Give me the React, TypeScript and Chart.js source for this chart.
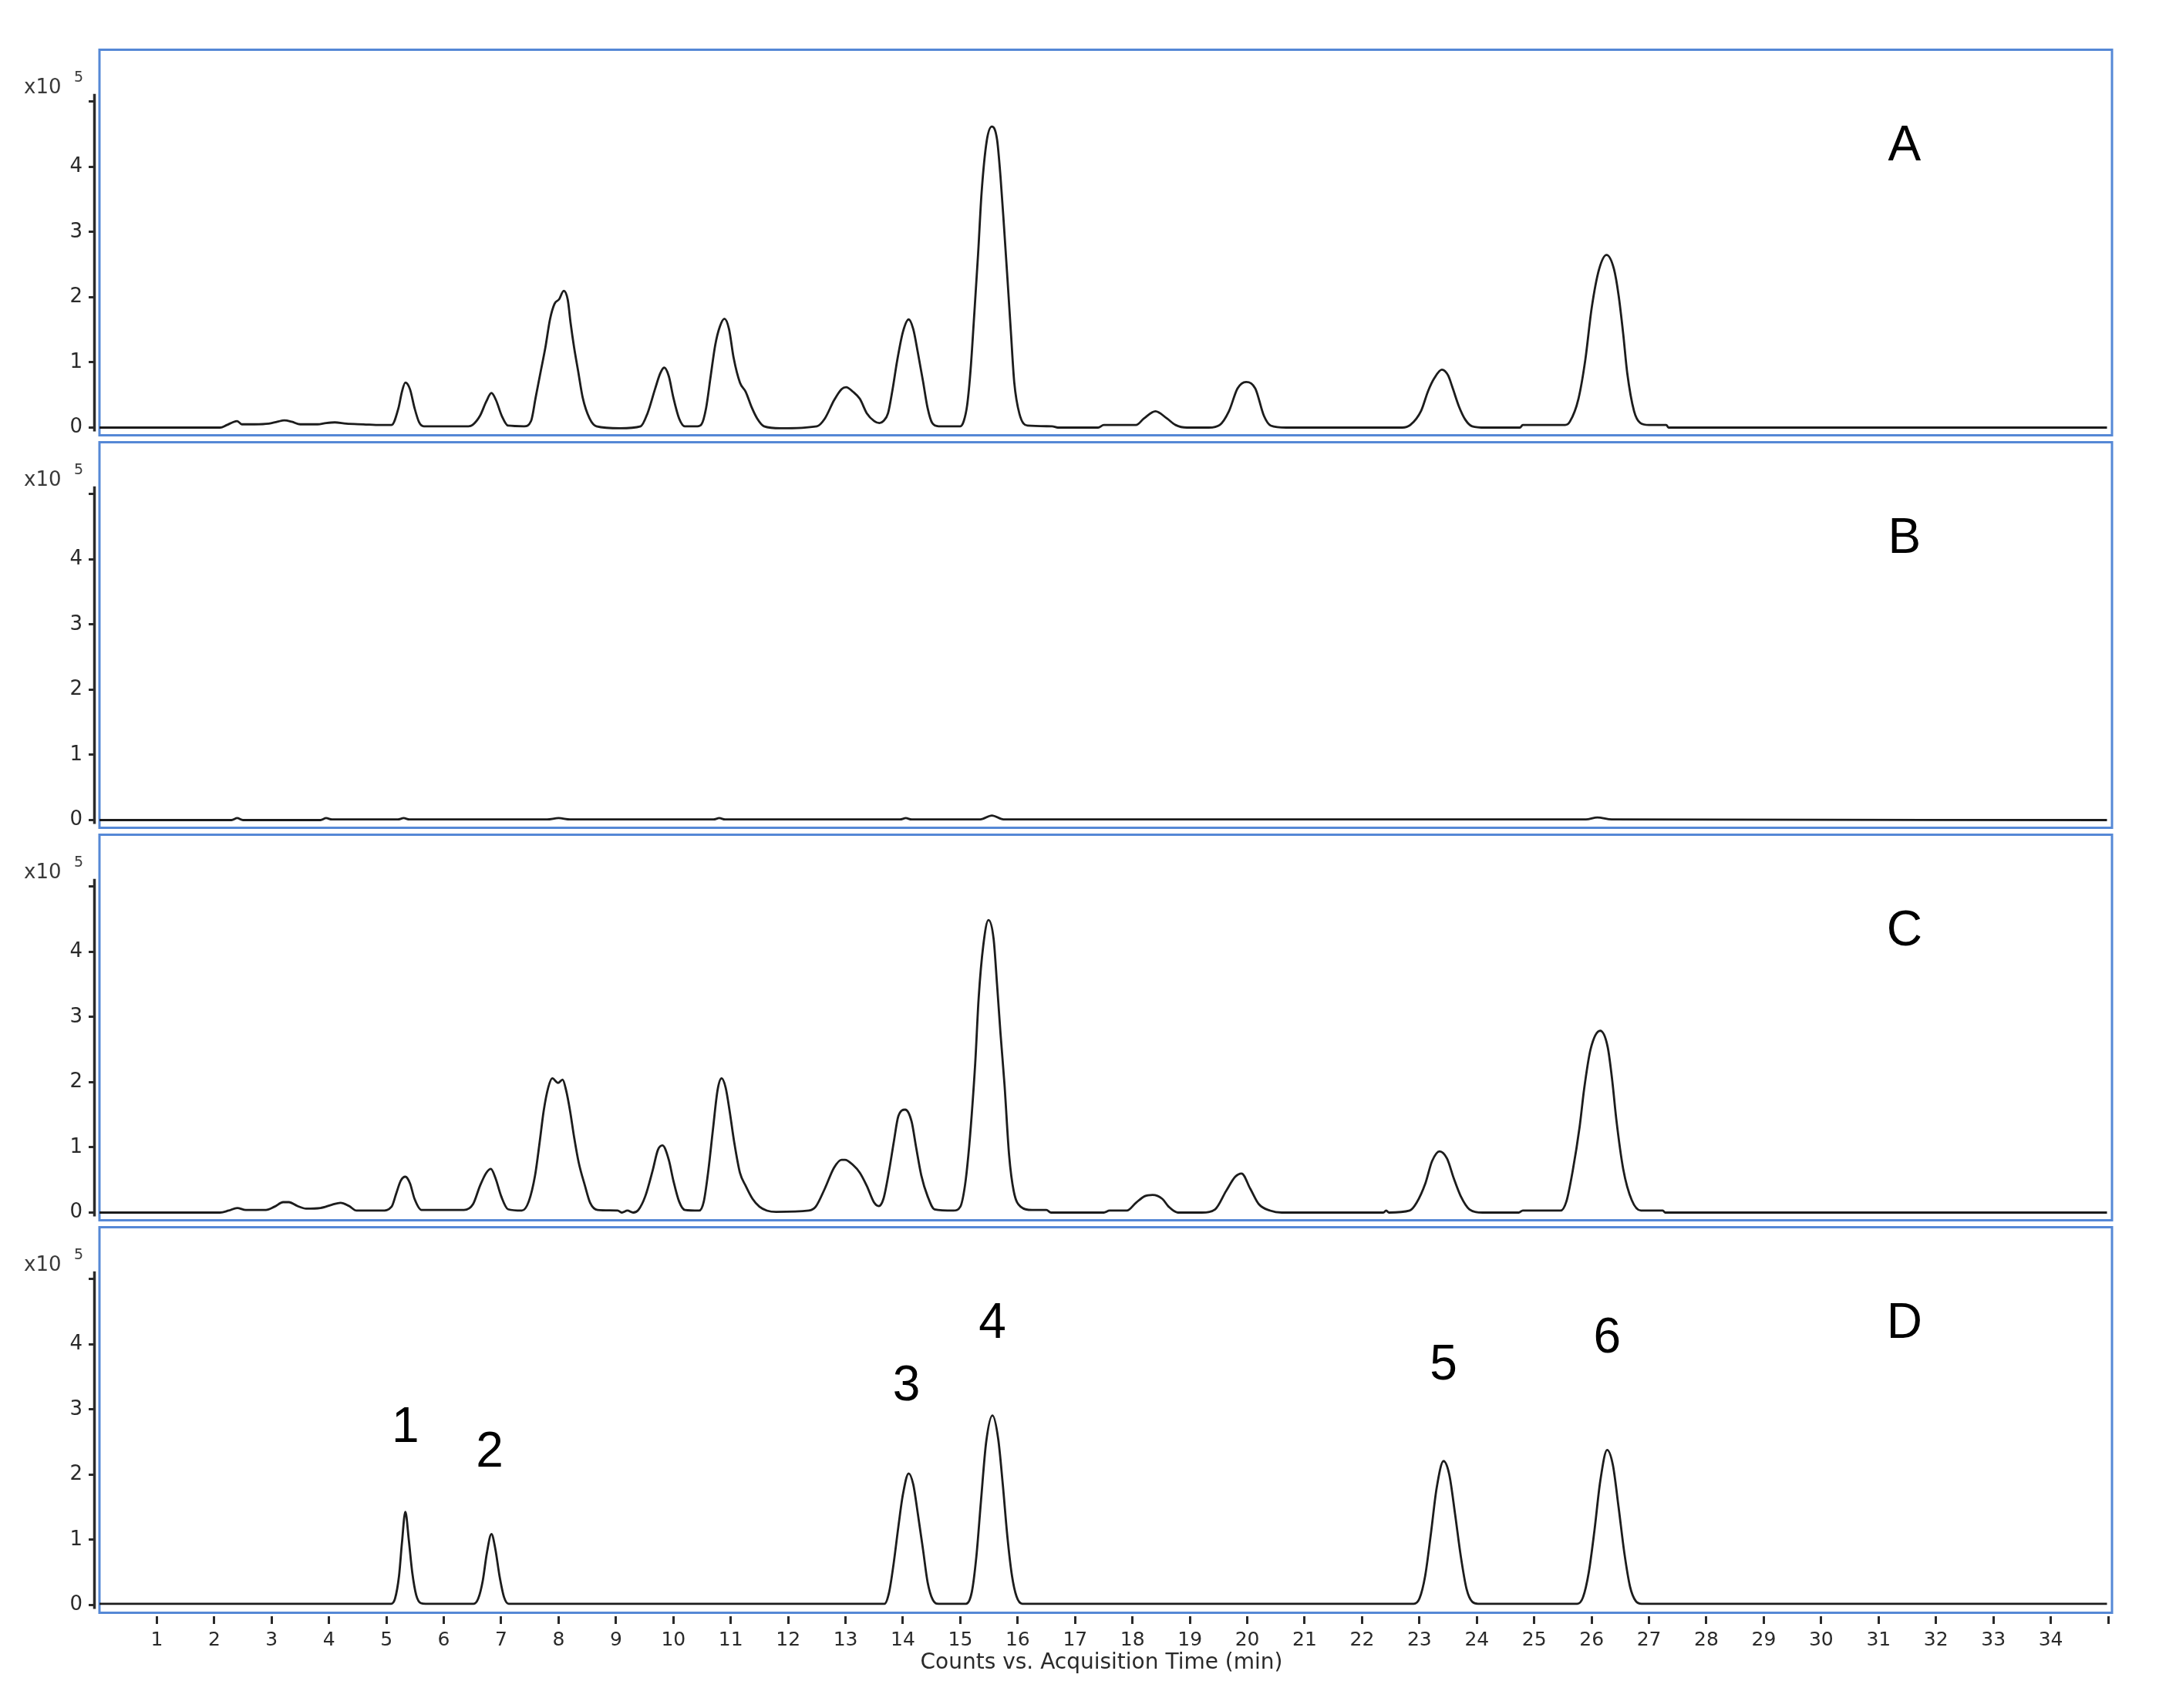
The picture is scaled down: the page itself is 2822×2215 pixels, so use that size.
import React, { useEffect, useRef } from 'react';
import { Chart, registerables } from 'chart.js';

Chart.register(...registerables);

// ---- Data (counts in units of 1e5) ----
const timeA = [0, 2.1, 2.22, 2.32, 2.4, 2.48, 2.7, 2.95, 3.1, 3.22, 3.35, 3.5, 3.8, 3.95, 4.1, 4.3, 4.6, 4.9, 5.09, 5.21, 5.27, 5.33, 5.41, 5.49, 5.57, 5.65, 6.43, 6.5, 6.63, 6.74, 6.83, 6.91, 7.01, 7.12, 7.4, 7.52, 7.6, 7.69, 7.77, 7.85, 7.93, 8.01, 8.09, 8.16, 8.21, 8.27, 8.34, 8.42, 8.54, 8.66, 9.07, 9.43, 9.55, 9.68, 9.77, 9.84, 9.92, 10.0, 10.1, 10.2, 10.42, 10.49, 10.57, 10.65, 10.73, 10.81, 10.89, 10.97, 11.05, 11.16, 11.26, 11.37, 11.46, 11.58, 11.87, 12.5, 12.64, 12.8, 12.93, 13.01, 13.13, 13.25, 13.37, 13.5, 13.59, 13.66, 13.74, 13.82, 13.9, 14.0, 14.1, 14.18, 14.26, 14.35, 14.43, 14.51, 14.62, 15.0, 15.06, 15.12, 15.18, 15.24, 15.31, 15.37, 15.46, 15.55, 15.64, 15.7, 15.76, 15.82, 15.88, 15.94, 16.03, 16.17, 16.6, 16.7, 17.4, 17.5, 18.06, 18.2, 18.4, 18.6, 18.75, 18.95, 19.33, 19.52, 19.68, 19.83, 19.98, 20.14, 20.29, 20.41, 20.68, 22.7, 22.84, 23.03, 23.15, 23.26, 23.39, 23.5, 23.57, 23.69, 23.8, 23.92, 24.15, 24.75, 24.8, 25.54, 25.62, 25.77, 25.89, 26.0, 26.13, 26.26, 26.39, 26.47, 26.55, 26.62, 26.74, 26.85, 27.0, 27.3, 27.34, 34.98];
const countsA = [0, 0, 0.04, 0.08, 0.1, 0.05, 0.05, 0.06, 0.09, 0.11, 0.09, 0.05, 0.05, 0.07, 0.08, 0.06, 0.05, 0.04, 0.04, 0.3, 0.55, 0.69, 0.59, 0.3, 0.08, 0.02, 0.02, 0.04, 0.18, 0.4, 0.53, 0.42, 0.18, 0.03, 0.02, 0.1, 0.46, 0.87, 1.23, 1.66, 1.9, 1.97, 2.1, 1.96, 1.6, 1.23, 0.87, 0.46, 0.14, 0.02, -0.01, 0.02, 0.22, 0.59, 0.83, 0.92, 0.79, 0.46, 0.14, 0.02, 0.02, 0.05, 0.3, 0.79, 1.27, 1.55, 1.67, 1.51, 1.07, 0.69, 0.55, 0.3, 0.14, 0.02, -0.01, 0.02, 0.14, 0.42, 0.59, 0.62, 0.55, 0.44, 0.22, 0.1, 0.07, 0.1, 0.22, 0.59, 1.03, 1.47, 1.66, 1.51, 1.15, 0.71, 0.3, 0.07, 0.02, 0.02, 0.1, 0.35, 0.9, 1.7, 2.67, 3.6, 4.4, 4.62, 4.42, 3.85, 3.1, 2.3, 1.48, 0.69, 0.21, 0.03, 0.02, 0, 0, 0.04, 0.04, 0.14, 0.25, 0.14, 0.04, 0, 0, 0.04, 0.25, 0.6, 0.7, 0.6, 0.18, 0.03, 0, 0, 0.04, 0.26, 0.56, 0.76, 0.89, 0.8, 0.63, 0.32, 0.12, 0.02, 0, 0, 0.04, 0.04, 0.09, 0.44, 1.04, 1.83, 2.43, 2.65, 2.43, 2.03, 1.44, 0.84, 0.25, 0.07, 0.04, 0.04, 0, 0];

const timeB = [0, 2.3, 2.4, 2.5, 3.85, 3.95, 4.05, 5.2, 5.3, 5.4, 7.8, 8.0, 8.2, 10.7, 10.8, 10.9, 13.95, 14.05, 14.15, 15.35, 15.55, 15.75, 25.9, 26.1, 26.35, 34.98];
const countsB = [0, 0, 0.03, 0, 0, 0.03, 0.01, 0.01, 0.03, 0.01, 0.01, 0.03, 0.01, 0.01, 0.03, 0.01, 0.01, 0.03, 0.01, 0.01, 0.07, 0.01, 0.01, 0.04, 0.01, 0];

const timeC = [0, 2.1, 2.25, 2.4, 2.55, 2.9, 3.05, 3.2, 3.3, 3.45, 3.6, 3.85, 4.05, 4.2, 4.35, 4.48, 4.92, 5.09, 5.17, 5.25, 5.33, 5.41, 5.49, 5.61, 6.35, 6.51, 6.63, 6.74, 6.82, 6.9, 7.0, 7.12, 7.36, 7.48, 7.59, 7.67, 7.74, 7.82, 7.89, 7.99, 8.07, 8.13, 8.2, 8.27, 8.35, 8.46, 8.55, 8.68, 9.03, 9.1, 9.2, 9.3, 9.39, 9.51, 9.64, 9.73, 9.81, 9.92, 10.0, 10.1, 10.2, 10.45, 10.53, 10.61, 10.69, 10.77, 10.84, 10.91, 10.98, 11.06, 11.16, 11.26, 11.38, 11.5, 11.63, 11.79, 12.36, 12.48, 12.64, 12.8, 12.93, 12.99, 13.13, 13.25, 13.37, 13.5, 13.58, 13.66, 13.76, 13.84, 13.92, 14.04, 14.15, 14.23, 14.32, 14.43, 14.55, 14.88, 15.0, 15.08, 15.14, 15.2, 15.26, 15.32, 15.4, 15.49, 15.58, 15.64, 15.7, 15.77, 15.85, 15.93, 16.05, 16.25, 16.5, 16.58, 17.5, 17.6, 17.9, 18.06, 18.21, 18.35, 18.52, 18.63, 18.79, 19.21, 19.44, 19.63, 19.79, 19.9, 20.05, 20.2, 20.4, 20.6, 22.37, 22.42, 22.47, 22.83, 22.95, 23.1, 23.22, 23.35, 23.48, 23.6, 23.72, 23.87, 24.1, 24.73, 24.8, 25.46, 25.56, 25.67, 25.79, 25.87, 25.98, 26.15, 26.28, 26.36, 26.43, 26.55, 26.7, 26.86, 27.24, 27.28, 34.98];
const countsC = [0, 0, 0.03, 0.07, 0.04, 0.04, 0.09, 0.16, 0.16, 0.1, 0.06, 0.07, 0.12, 0.15, 0.1, 0.03, 0.03, 0.09, 0.29, 0.49, 0.55, 0.45, 0.21, 0.04, 0.04, 0.13, 0.41, 0.61, 0.67, 0.53, 0.25, 0.05, 0.03, 0.17, 0.57, 1.08, 1.56, 1.92, 2.06, 1.99, 2.04, 1.88, 1.56, 1.16, 0.77, 0.41, 0.15, 0.04, 0.03, 0, 0.03, 0, 0.04, 0.25, 0.65, 0.96, 1.03, 0.81, 0.49, 0.17, 0.04, 0.03, 0.17, 0.65, 1.28, 1.88, 2.06, 1.92, 1.56, 1.08, 0.61, 0.41, 0.21, 0.09, 0.03, 0.01, 0.03, 0.09, 0.37, 0.69, 0.81, 0.81, 0.73, 0.61, 0.41, 0.15, 0.1, 0.21, 0.65, 1.08, 1.48, 1.58, 1.4, 1.0, 0.57, 0.25, 0.05, 0.03, 0.09, 0.41, 0.88, 1.52, 2.3, 3.3, 4.1, 4.49, 4.2, 3.5, 2.75, 1.96, 0.88, 0.33, 0.09, 0.04, 0.04, 0, 0, 0.03, 0.03, 0.15, 0.25, 0.27, 0.21, 0.09, 0, 0, 0.05, 0.33, 0.55, 0.6, 0.37, 0.13, 0.03, 0, 0, 0.03, 0, 0.03, 0.15, 0.44, 0.79, 0.94, 0.83, 0.52, 0.25, 0.05, 0, 0, 0.03, 0.03, 0.17, 0.64, 1.31, 1.9, 2.5, 2.79, 2.54, 2.02, 1.43, 0.67, 0.19, 0.03, 0.03, 0, 0];

const timeD = [0, 5.08, 5.15, 5.22, 5.27, 5.33, 5.39, 5.45, 5.52, 5.6, 5.68, 6.52, 6.6, 6.68, 6.75, 6.83, 6.9, 6.97, 7.05, 7.13, 13.68, 13.76, 13.84, 13.92, 14.0, 14.1, 14.18, 14.26, 14.35, 14.43, 14.52, 14.62, 15.1, 15.2, 15.28, 15.36, 15.45, 15.56, 15.66, 15.74, 15.82, 15.9, 15.98, 16.08, 22.9, 23.0, 23.1, 23.2, 23.3, 23.42, 23.52, 23.62, 23.72, 23.82, 23.92, 24.02, 25.75, 25.85, 25.95, 26.05, 26.15, 26.27, 26.37, 26.47, 26.57, 26.67, 26.77, 26.87, 34.98];
const countsD = [0.02, 0.02, 0.1, 0.45, 0.95, 1.43, 1.0, 0.5, 0.15, 0.03, 0.02, 0.02, 0.1, 0.38, 0.8, 1.09, 0.85, 0.45, 0.12, 0.02, 0.02, 0.2, 0.65, 1.2, 1.7, 2.02, 1.85, 1.4, 0.85, 0.35, 0.08, 0.02, 0.02, 0.2, 0.75, 1.6, 2.5, 2.91, 2.55, 1.85, 1.05, 0.45, 0.13, 0.02, 0.02, 0.1, 0.45, 1.1, 1.8, 2.21, 2.0, 1.4, 0.75, 0.25, 0.05, 0.02, 0.02, 0.12, 0.5, 1.15, 1.9, 2.38, 2.15, 1.5, 0.8, 0.28, 0.06, 0.02, 0.02];

const panelLabels = ['A', 'B', 'C', 'D'];
const peakNumbers = ['1', '2', '3', '4', '5', '6'];
const peakNumberTimes = [5.33, 6.8, 14.06, 15.56, 23.42, 26.27];
const peakNumberCounts = [2.77, 2.39, 3.41, 4.37, 3.73, 4.15];
const yTickValues = [0, 1, 2, 3, 4, 5];
const xTickValues = [1, 2, 3, 4, 5, 6, 7, 8, 9, 10, 11, 12, 13, 14, 15, 16, 17, 18, 19, 20, 21, 22, 23, 24, 25, 26, 27, 28, 29, 30, 31, 32, 33, 34, 35];
const xTitle = 'Counts vs. Acquisition Time (min)';
const yExponentBase = 'x10';
const yExponent = '5';

// ---- Styles / layout ----
const W = 2822;
const H = 2215;
const PANEL_IDS = ['yA', 'yB', 'yC', 'yD'];
const BLUE = '#5588d6';
const INK = '#1c1c1c';
const AXIS = '#2a2a2a';
const Y_MIN = -0.1716;
const Y_MAX = 5.852;
const X_MIN = -0.0806;
const X_MAX = 35;
const LABEL_TIME = 31.45;
const LABEL_COUNT = 4.37;

function makeSeries(t: number[], v: number[]) {
  return t.map((x, i) => ({ x, y: v[i] }));
}

const overlayPlugin = {
  id: 'chromOverlay',
  beforeDatasetsDraw(chart: any) {
    const { ctx, chartArea, scales } = chart;
    const xs = scales.x;
    ctx.save();
    PANEL_IDS.forEach((id) => {
      const s = scales[id];
      const left = xs.getPixelForValue(0);
      const right = chartArea.right + 5;
      ctx.strokeStyle = BLUE;
      ctx.lineWidth = 3;
      ctx.strokeRect(left, s.top + 4.5, right - left, s.bottom - s.top - 9);
      ctx.strokeStyle = AXIS;
      ctx.lineWidth = 3.5;
      ctx.beginPath();
      ctx.moveTo(chartArea.left - 0.5, s.getPixelForValue(5.12));
      ctx.lineTo(chartArea.left - 0.5, s.getPixelForValue(-0.06));
      ctx.stroke();
    });
    ctx.restore();
  },
  afterDraw(chart: any) {
    const { ctx, scales } = chart;
    const xs = scales.x;
    ctx.save();
    PANEL_IDS.forEach((id, i) => {
      const s = scales[id];
      ctx.fillStyle = '#3a3a3a';
      ctx.textAlign = 'left';
      ctx.textBaseline = 'alphabetic';
      ctx.font = '26px "DejaVu Sans"';
      ctx.fillText(yExponentBase, 31, s.getPixelForValue(5.13));
      ctx.font = '19px "DejaVu Sans"';
      ctx.fillText(yExponent, 96, s.getPixelForValue(5.31));
      ctx.fillStyle = '#000000';
      ctx.textAlign = 'center';
      ctx.font = '64px "Liberation Sans", Arial, sans-serif';
      ctx.fillText(panelLabels[i], xs.getPixelForValue(LABEL_TIME), s.getPixelForValue(LABEL_COUNT) + 0.358 * 64);
    });
    const sd = scales.yD;
    ctx.fillStyle = '#000000';
    ctx.textAlign = 'center';
    ctx.font = '64px "Liberation Sans", Arial, sans-serif';
    peakNumbers.forEach((n, i) => {
      ctx.fillText(n, xs.getPixelForValue(peakNumberTimes[i]), sd.getPixelForValue(peakNumberCounts[i]) + 0.358 * 64);
    });
    ctx.restore();
  },
};

function yScale(weight: number) {
  return {
    type: 'linear',
    position: 'left',
    stack: 'panels',
    stackWeight: 1,
    weight,
    min: Y_MIN,
    max: Y_MAX,
    afterBuildTicks: (s: any) => {
      s.ticks = yTickValues.map((v) => ({ value: v }));
    },
    afterFit: (s: any) => {
      s.width = 123;
    },
    ticks: {
      callback: (v: any) => (v === 5 ? '' : String(v)),
      font: { family: 'DejaVu Sans', size: 26 },
      color: AXIS,
      padding: 8,
    },
    grid: {
      display: true,
      drawOnChartArea: false,
      drawTicks: true,
      tickLength: 8,
      tickWidth: 3,
      tickColor: AXIS,
    },
    border: { display: false },
  };
}

export default function App() {
  const canvasRef = useRef<HTMLCanvasElement | null>(null);

  useEffect(() => {
    if (!canvasRef.current) return;
    const datasets = [
      { data: makeSeries(timeA, countsA), yAxisID: 'yA' },
      { data: makeSeries(timeB, countsB), yAxisID: 'yB' },
      { data: makeSeries(timeC, countsC), yAxisID: 'yC' },
      { data: makeSeries(timeD, countsD), yAxisID: 'yD' },
    ].map((d) => ({
      ...d,
      borderColor: INK,
      borderWidth: 2.8,
      pointRadius: 0,
      fill: false,
      cubicInterpolationMode: 'monotone' as const,
    }));

    const chart = new Chart(canvasRef.current, {
      type: 'line',
      data: { datasets },
      options: {
        animation: false,
        responsive: false,
        devicePixelRatio: 1,
        layout: { padding: { top: 60, right: 88, bottom: 0, left: 0 } },
        plugins: {
          legend: { display: false },
          tooltip: { enabled: false },
        },
        scales: {
          x: {
            type: 'linear',
            position: 'bottom',
            min: X_MIN,
            max: X_MAX,
            afterBuildTicks: (s: any) => {
              s.ticks = xTickValues.map((v) => ({ value: v }));
            },
            afterFit: (s: any) => {
              s.height = 119;
            },
            ticks: {
              autoSkip: false,
              maxRotation: 0,
              callback: (v: any) => (v === 35 ? '' : String(v)),
              font: { family: 'DejaVu Sans', size: 25 },
              color: AXIS,
              padding: 6,
            },
            grid: {
              display: true,
              drawOnChartArea: false,
              drawTicks: true,
              tickLength: 10,
              tickWidth: 3,
              tickColor: AXIS,
            },
            border: { display: false },
            title: {
              display: true,
              text: xTitle,
              font: { family: 'DejaVu Sans', size: 28 },
              color: AXIS,
              padding: { top: 0, bottom: 41 },
            },
          },
          yA: yScale(4),
          yB: yScale(3),
          yC: yScale(2),
          yD: yScale(1),
        } as any,
      },
      plugins: [overlayPlugin],
    });
    return () => chart.destroy();
  }, []);

  return (
    <div style={{ position: 'absolute', left: 0, top: 0, width: W, height: H, background: '#ffffff' }}>
      <canvas ref={canvasRef} width={W} height={H} style={{ display: 'block', width: W, height: H }} />
    </div>
  );
}
